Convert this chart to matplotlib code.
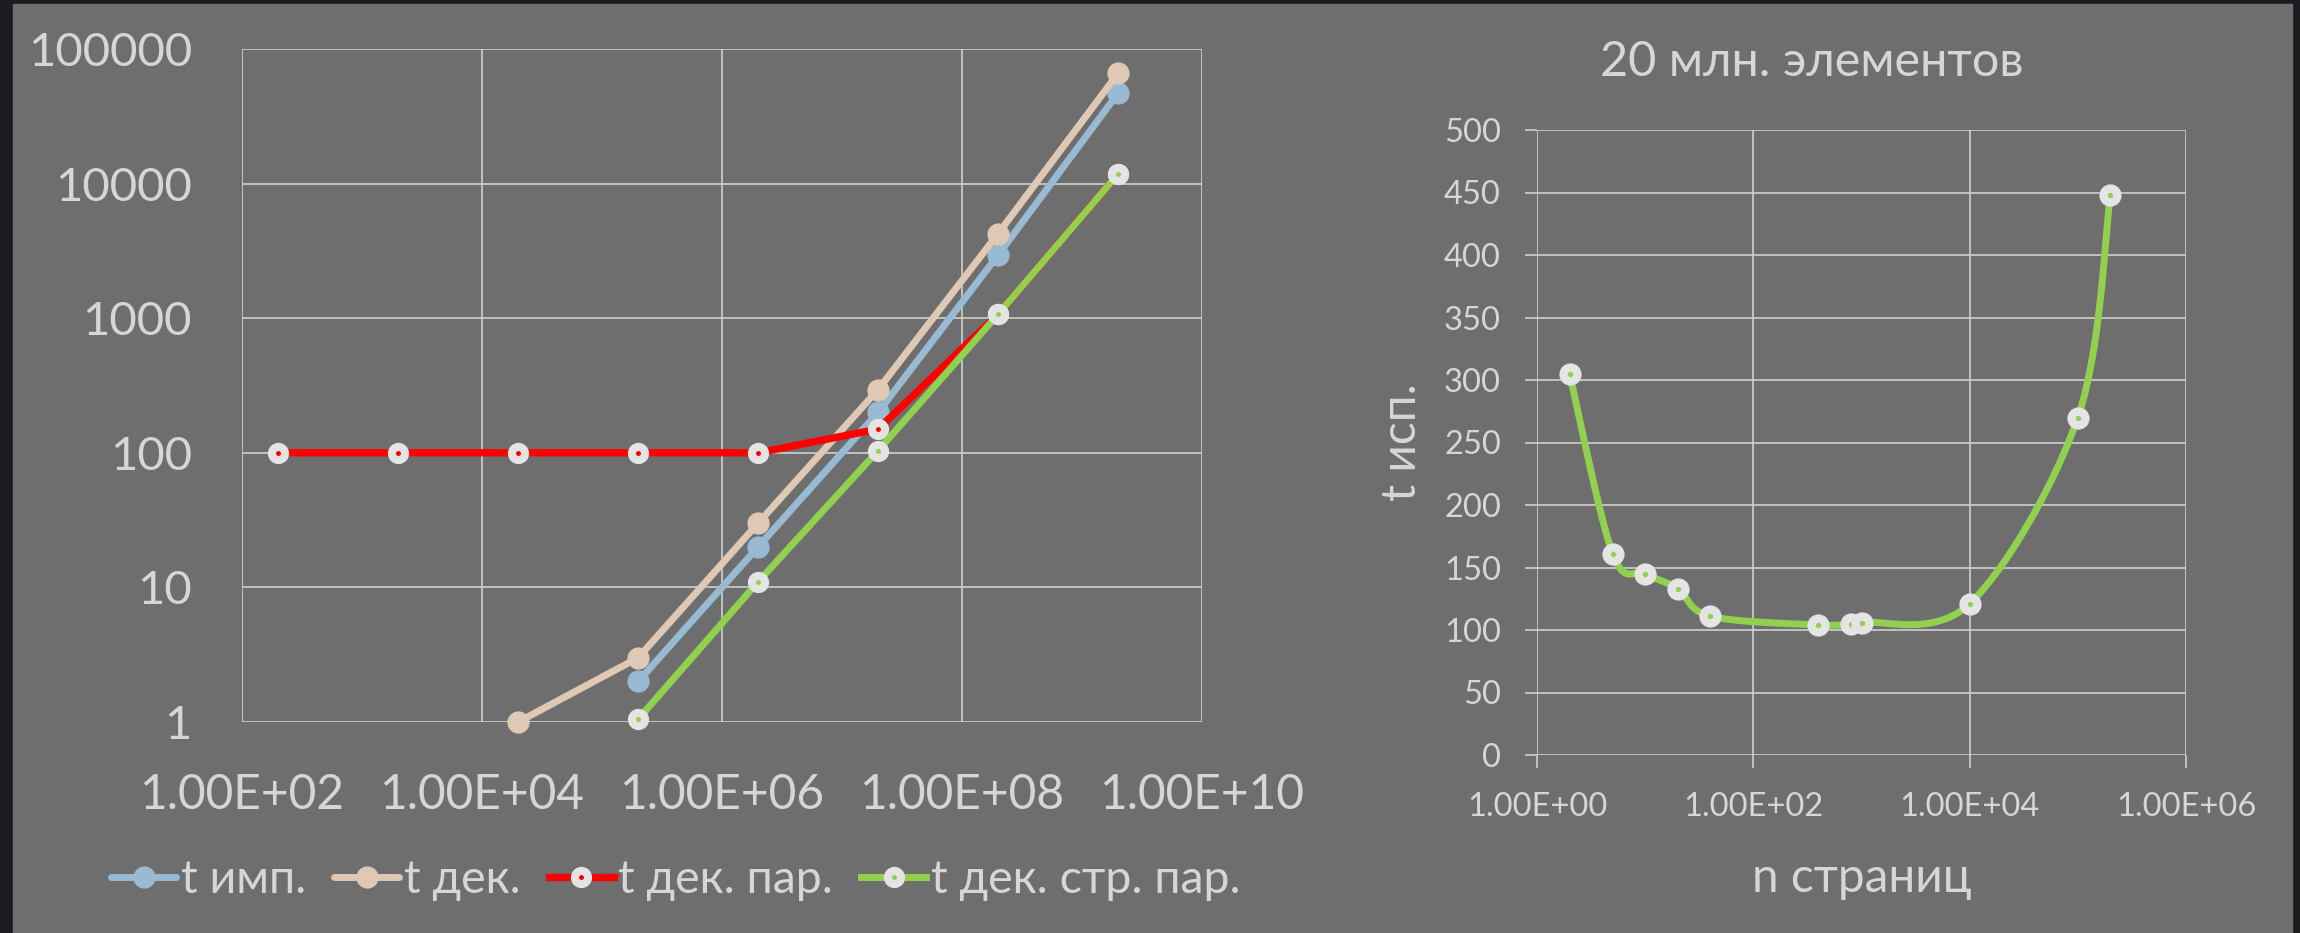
import numpy as np
import matplotlib
matplotlib.use("Agg")
import matplotlib.pyplot as plt
from matplotlib.ticker import FixedLocator, NullLocator, FuncFormatter

plt.rcParams['font.family'] = ['Lato', 'DejaVu Sans']

# left chart data (log-log)
n_left = [2e2, 2e3, 2e4, 2e5, 2e6, 2e7, 2e8, 2e9]
t_imp = [None, None, None, 2.0, 20, 200, 2950, 47000]
t_dek = [None, None, 1.0, 3.0, 30, 295, 4250, 66000]
t_dek_par = [100, 100, 100, 100, 100, 150, 1070, 11800]
t_dek_str_par = [None, None, None, 1.05, 11, 104, 1070, 11800]
left_labels = ["t имп.", "t дек.", "t дек. пар.", "t дек. стр. пар."]

# right chart data
n_pages = [2, 5, 10, 20, 40, 400, 800, 1000, 10000, 100000, 200000]
t_isp = [305, 161, 145, 133, 111, 104, 105, 106, 121, 270, 448]

BG = '#6e6e6e'
FRAME = '#1b1c20'
GRID = '#d0d0d0'
TXT = '#d6d6d6'
MK = '#e4e4e4'

W, H = 2300, 933
fig = plt.figure(figsize=(W / 100, H / 100), dpi=100)
fig.patch.set_facecolor(FRAME)
# gray panel inside the dark frame
fig.add_artist(plt.Rectangle((13 / W, 0), (2292 - 13) / W, (H - 4) / H,
                             transform=fig.transFigure, color=BG, zorder=0))


def box(l, t, r, b):
    return [l / W, 1 - b / H, (r - l) / W, (b - t) / H]


def clean(x, y):
    pts = [(a, b) for a, b in zip(x, y) if b is not None]
    return [p[0] for p in pts], [p[1] for p in pts]


# ---------------- left chart
ax = fig.add_axes(box(242, 49, 1202, 722))
ax.set_facecolor(BG)
ax.set_xscale('log')
ax.set_yscale('log')
ax.set_xlim(1e2, 1e10)
ax.set_ylim(1, 1e5)
for s in ax.spines.values():
    s.set_visible(False)
ax.xaxis.set_major_locator(FixedLocator([1e2, 1e4, 1e6, 1e8, 1e10]))
ax.yaxis.set_major_locator(FixedLocator([1, 10, 100, 1000, 10000, 100000]))
ax.xaxis.set_minor_locator(NullLocator())
ax.yaxis.set_minor_locator(NullLocator())
ax.xaxis.set_major_formatter(FuncFormatter(lambda v, p: "%.2E" % v))
ax.yaxis.set_major_formatter(FuncFormatter(lambda v, p: "%d" % v))
ax.tick_params(axis='x', length=0, pad=37, labelsize=34.5, labelcolor=TXT)
ax.tick_params(axis='y', length=0, pad=36, labelsize=34, labelcolor=TXT)
ax.grid(True, color=GRID, lw=1.2)
ax.set_axisbelow(True)

lw = 5
x, y = clean(n_left, t_imp)
h1, = ax.plot(x, y, color='#98bad3', lw=lw, marker='o', ms=15, mec='#98bad3',
              solid_capstyle='round', label=left_labels[0], clip_on=False)
x, y = clean(n_left, t_dek)
h2, = ax.plot(x, y, color='#e0c9b4', lw=lw, marker='o', ms=15, mec='#e0c9b4',
              solid_capstyle='round', label=left_labels[1], clip_on=False)
x, y = clean(n_left, t_dek_par)
h3, = ax.plot(x, y, color='#ff0000', lw=lw + 0.3, marker='o', ms=9.5, mew=5.8,
              mfc='#ff0000', mec=MK, label=left_labels[2], clip_on=False)
x, y = clean(n_left, t_dek_str_par)
h4, = ax.plot(x, y, color='#92d050', lw=lw, marker='o', ms=9.5, mew=5.8,
              mfc='#92d050', mec=MK, label=left_labels[3], clip_on=False)

leg = fig.legend(handles=[h1, h2, h3, h4], loc='center left',
                 bbox_to_anchor=(88 / W, 1 - 880 / H), ncol=4, frameon=False,
                 fontsize=33.5, labelcolor=TXT, handlelength=1.4,
                 handletextpad=0.1, columnspacing=0.6, borderpad=0)

# ---------------- right chart
ax2 = fig.add_axes(box(1537, 130, 2186, 755))
ax2.set_facecolor(BG)
ax2.set_xscale('log')
ax2.set_xlim(1, 1e6)
ax2.set_ylim(0, 500)
for s in ax2.spines.values():
    s.set_visible(False)
ax2.xaxis.set_major_locator(FixedLocator([1, 1e2, 1e4, 1e6]))
ax2.xaxis.set_minor_locator(NullLocator())
ax2.yaxis.set_major_locator(FixedLocator(np.arange(0, 501, 50)))
ax2.xaxis.set_major_formatter(FuncFormatter(lambda v, p: "%.2E" % v))
ax2.tick_params(axis='both', length=9, width=1.2, color=GRID, labelsize=23.5,
                labelcolor=TXT)
ax2.tick_params(axis='x', pad=18)
ax2.tick_params(axis='y', pad=17)
ax2.grid(True, color=GRID, lw=1.2)
ax2.set_axisbelow(True)
fig.text(1812 / W, 1 - 62 / H, "20 млн. элементов", fontsize=35, color=TXT,
         ha='center', va='center')
ax2.set_xlabel("n страниц", fontsize=34.5, color=TXT, labelpad=24)
ax2.set_ylabel("t исп.", fontsize=34.5, color=TXT, labelpad=14)

# smoothed line (Catmull-Rom style bezier, like Excel's smoothed line)
sx = 649 / 6.0
sy = 625 / 500.0
P = np.array([[np.log10(a) * sx, b * sy] for a, b in zip(n_pages, t_isp)])
curve = []
tt = np.linspace(0, 1, 40)
for i in range(len(P) - 1):
    p0 = P[i - 1] if i > 0 else P[i]
    p1 = P[i]
    p2 = P[i + 1]
    p3 = P[i + 2] if i + 2 < len(P) else P[i + 1]
    c1 = p1 + (p2 - p0) / 6.0
    c2 = p2 - (p3 - p1) / 6.0
    for t in tt:
        curve.append((1 - t) ** 3 * p1 + 3 * (1 - t) ** 2 * t * c1
                     + 3 * (1 - t) * t ** 2 * c2 + t ** 3 * p2)
curve = np.array(curve)
ax2.plot(10 ** (curve[:, 0] / sx), curve[:, 1] / sy, color='#92d050', lw=5,
         solid_capstyle='round')
ax2.plot(n_pages, t_isp, ls='none', marker='o', ms=10, mew=6,
         mfc='#92d050', mec=MK, clip_on=False)

fig.savefig("out.png", dpi=100, facecolor=fig.get_facecolor())
